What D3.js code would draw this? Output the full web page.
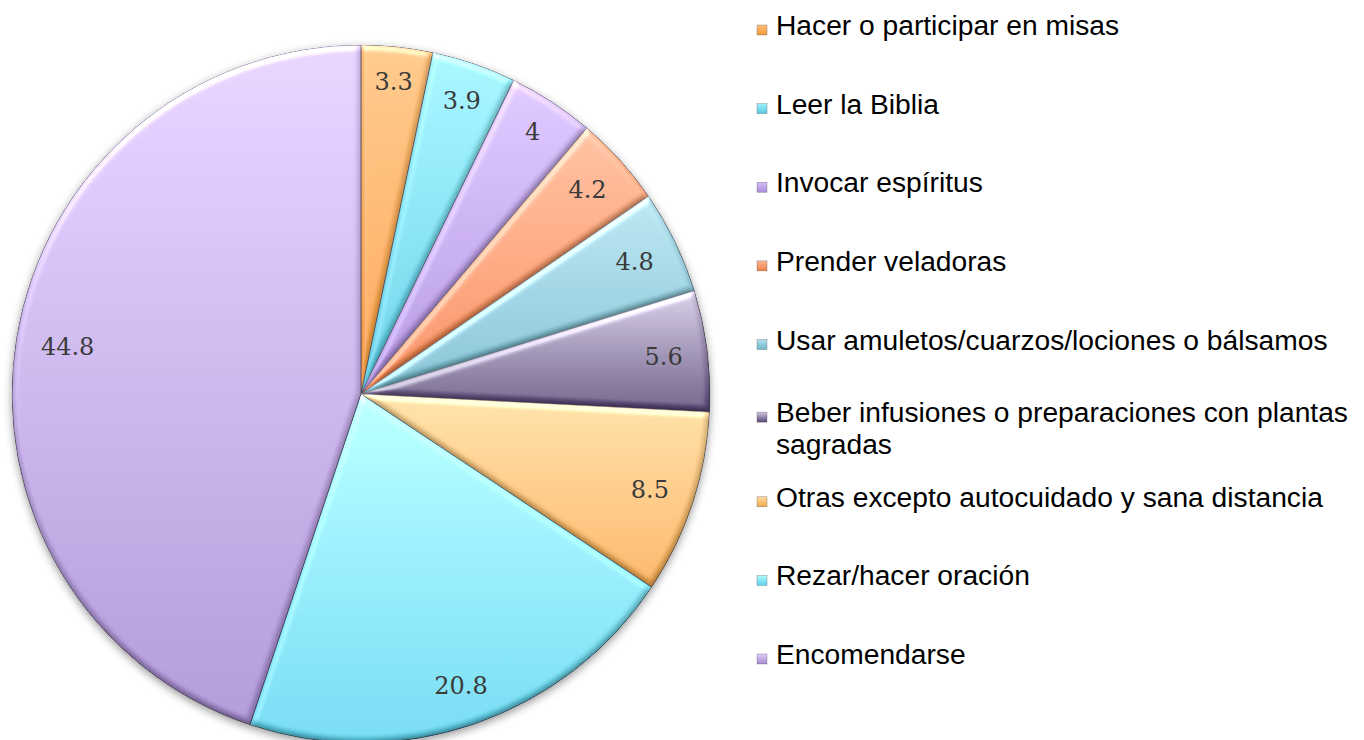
<!DOCTYPE html>
<html>
  <head>
    <meta charset="utf-8" />
    <script src="https://d3js.org/d3.v7.min.js"></script>
    <style>
        body { margin: 0; background: #fff; }
        .lbl { font-family: "DejaVu Serif", serif; font-size: 24px; fill: #3a3a3a; }
        .leg { font-family: "Liberation Sans", Arial, sans-serif; font-size: 28.2px; fill: #000; }
    </style>
  </head>
  <body>
    <svg id="chart" width="1364" height="740"></svg>

    <script>
        // categories, clockwise from 12 o'clock
        var categories = [
            "Hacer o participar en misas",
            "Leer la Biblia",
            "Invocar espíritus",
            "Prender veladoras",
            "Usar amuletos/cuarzos/lociones o bálsamos",
            "Beber infusiones o preparaciones con plantas sagradas",
            "Otras excepto autocuidado y sana distancia",
            "Rezar/hacer oración",
            "Encomendarse"
        ];
        var values = [3.3, 3.9, 4, 4.2, 4.8, 5.6, 8.5, 20.8, 44.8];
        var valueLabels = ["3.3", "3.9", "4", "4.2", "4.8", "5.6", "8.5", "20.8", "44.8"];
        // legend text lines (one entry wraps)
        var legendLines = [
            ["Hacer o participar en misas"],
            ["Leer la Biblia"],
            ["Invocar espíritus"],
            ["Prender veladoras"],
            ["Usar amuletos/cuarzos/lociones o bálsamos"],
            ["Beber infusiones o preparaciones con plantas", "sagradas"],
            ["Otras excepto autocuidado y sana distancia"],
            ["Rezar/hacer oración"],
            ["Encomendarse"]
        ];

        // fill colours (top, bottom of each slice)
        var topColors = ["#fdc07a", "#9cf1fc", "#d8c0fa", "#fdb794", "#b1dfeb", "#d2c8e2", "#fddb9e", "#affbff", "#e1cdfd"];
        var bottomColors = ["#f39a3a", "#56c8e0", "#a98ad8", "#ef8149", "#74b8cc", "#584676", "#f4ab52", "#60d2eb", "#a68bcf"];

        var cx = 361, cy = 394, R = 349;

        var svg = d3.select("#chart");
        var defs = svg.append("defs");

        topColors.forEach(function(c, i) {
            var g = defs.append("linearGradient")
                .attr("id", "grad" + i)
                .attr("x1", 0).attr("y1", 0).attr("x2", 0).attr("y2", 1);
            g.append("stop").attr("offset", "0%").attr("stop-color", c);
            g.append("stop").attr("offset", "100%").attr("stop-color", bottomColors[i]);
        });

        // bevel: diffuse shading for dark edges + specular highlight on top edges
        var bevel = defs.append("filter").attr("id", "bevel")
            .attr("x", "-5%").attr("y", "-5%").attr("width", "110%").attr("height", "110%");
        bevel.append("feGaussianBlur").attr("in", "SourceAlpha").attr("stdDeviation", 3).attr("result", "blur");
        var diff = bevel.append("feDiffuseLighting").attr("in", "blur")
            .attr("surfaceScale", 3).attr("diffuseConstant", 1)
            .attr("lighting-color", "#ffffff").attr("result", "diff");
        diff.append("feDistantLight").attr("azimuth", 260).attr("elevation", 55);
        bevel.append("feComposite").attr("in", "SourceGraphic").attr("in2", "diff")
            .attr("operator", "arithmetic").attr("k1", 1.2).attr("k2", 0).attr("k3", 0).attr("k4", 0)
            .attr("result", "shaded");
        bevel.append("feComposite").attr("in", "shaded").attr("in2", "SourceAlpha").attr("operator", "in").attr("result", "shadedIn");
        var spec = bevel.append("feSpecularLighting").attr("in", "blur")
            .attr("surfaceScale", 3).attr("specularConstant", 0.7).attr("specularExponent", 18)
            .attr("lighting-color", "#ffffff").attr("result", "spec");
        spec.append("feDistantLight").attr("azimuth", 250).attr("elevation", 40);
        bevel.append("feComposite").attr("in", "spec").attr("in2", "SourceAlpha").attr("operator", "in").attr("result", "specIn");
        bevel.append("feComposite").attr("in", "shadedIn").attr("in2", "specIn")
            .attr("operator", "arithmetic").attr("k1", 0).attr("k2", 1).attr("k3", 0.7).attr("k4", 0);

        var shadow = defs.append("filter").attr("id", "shadow")
            .attr("x", "-10%").attr("y", "-10%").attr("width", "120%").attr("height", "120%");
        shadow.append("feDropShadow").attr("dx", 0).attr("dy", 3).attr("stdDeviation", 4)
            .attr("flood-color", "#000").attr("flood-opacity", 0.4);

        var pie = d3.pie().sort(null).value(function(d) { return d; });
        var arcs = pie(values);
        var arc = d3.arc().innerRadius(0).outerRadius(R);

        var pieG = svg.append("g")
            .attr("transform", "translate(" + cx + "," + cy + ")")
            .attr("filter", "url(#shadow)");

        pieG.selectAll("path.slice")
            .data(arcs)
            .enter().append("path")
            .attr("class", "slice")
            .attr("d", arc)
            .attr("fill", function(d, i) { return "url(#grad" + i + ")"; })
            .attr("stroke", "rgba(45,40,60,0.65)")
            .attr("stroke-width", 0.9)
            .attr("filter", "url(#bevel)");

        // data labels at inside end
        var labelG = svg.append("g").attr("transform", "translate(" + cx + "," + cy + ")");
        var margin = 24, digitH = 17;
        labelG.selectAll("text")
            .data(arcs)
            .enter().append("text")
            .attr("class", "lbl")
            .attr("text-anchor", "middle")
            .text(function(d, i) { return valueLabels[i]; })
            .each(function(d) {
                var w = this.getComputedTextLength();
                var a = (d.startAngle + d.endAngle) / 2;
                var ux = Math.sin(a), uy = -Math.cos(a);
                var dist = R - margin - (Math.abs(ux) * w / 2 + Math.abs(uy) * digitH / 2);
                d3.select(this)
                    .attr("x", ux * dist)
                    .attr("y", uy * dist + 8.5);
            });

        // legend
        var legendY = d3.scalePoint().domain(categories).range([35, 664]);
        var lineH = 32;
        var legend = svg.append("g");
        var items = legend.selectAll("g.item")
            .data(categories)
            .enter().append("g")
            .attr("class", "item")
            .attr("transform", function(d, i) {
                var shift = legendLines[i].length > 1 ? -6 : 0;
                return "translate(757," + (legendY(d) + shift) + ")";
            });

        items.append("rect")
            .attr("x", 0).attr("y", -10)
            .attr("width", 10).attr("height", 10)
            .attr("fill", function(d, i) { return "url(#grad" + i + ")"; })
            .attr("stroke", "rgba(50,50,60,0.5)")
            .attr("stroke-width", 0.5);

        items.each(function(d, i) {
            var t = d3.select(this).append("text").attr("class", "leg");
            legendLines[i].forEach(function(line, j) {
                t.append("tspan").attr("x", 19).attr("y", j * lineH).text(line);
            });
        });
    </script>
  </body>
</html>
